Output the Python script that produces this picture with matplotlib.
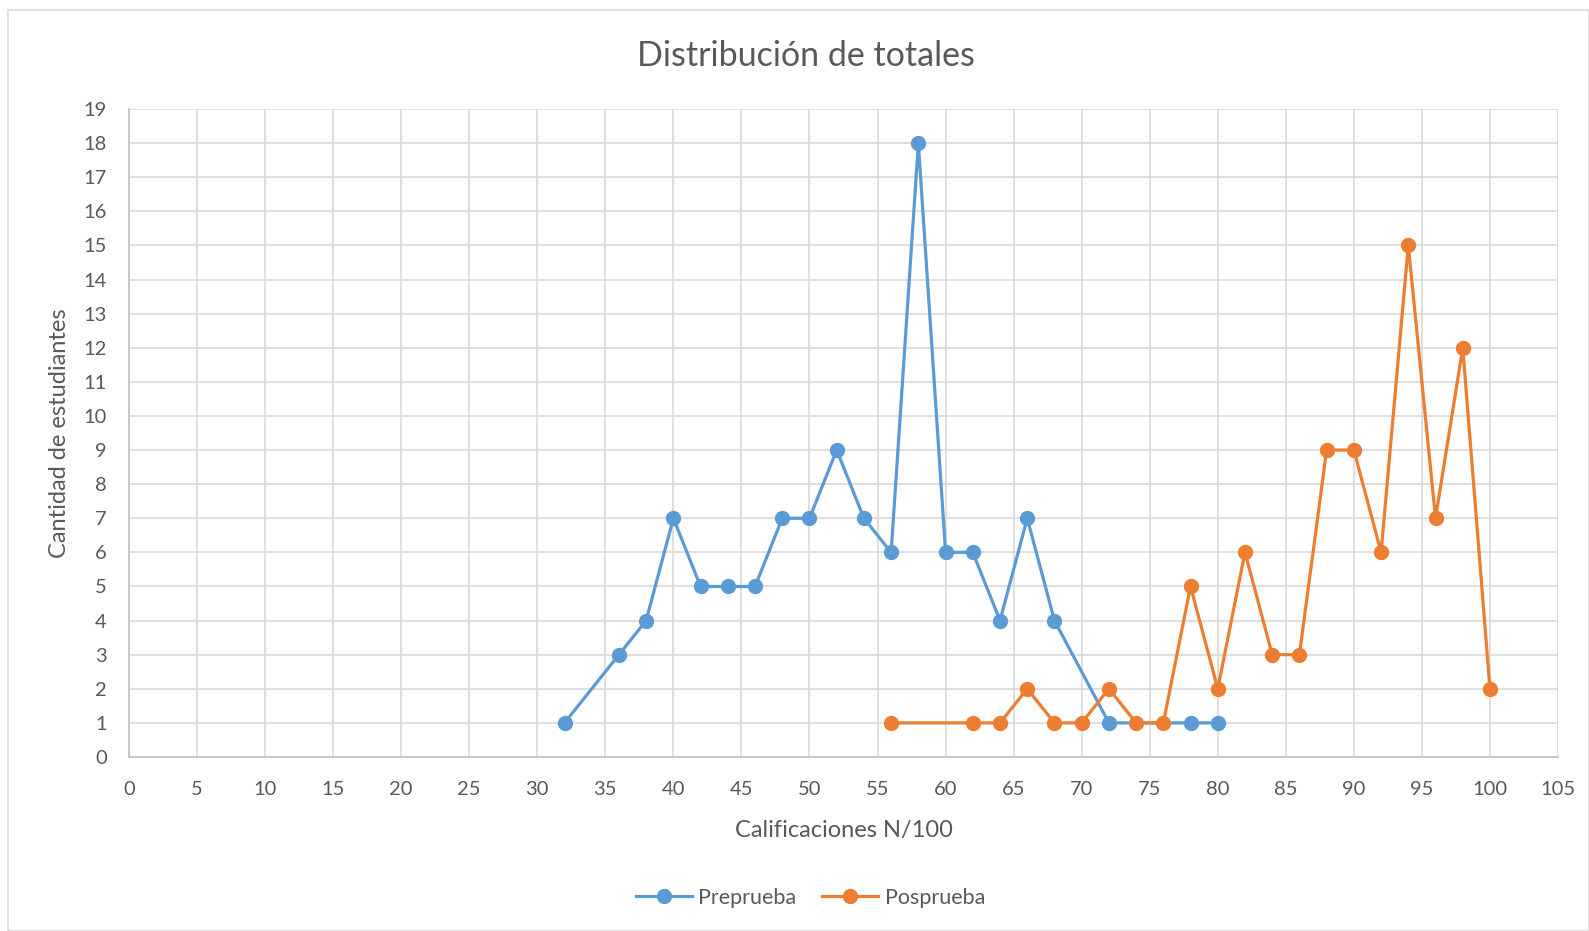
import matplotlib
matplotlib.use('Agg')
import matplotlib.pyplot as plt
from matplotlib.patches import Rectangle

# Datos
pre_x = [32, 36, 38, 40, 42, 44, 46, 48, 50, 52, 54, 56, 58, 60, 62, 64, 66, 68, 72, 78, 80]
pre_y = [1, 3, 4, 7, 5, 5, 5, 7, 7, 9, 7, 6, 18, 6, 6, 4, 7, 4, 1, 1, 1]

pos_x = [56, 62, 64, 66, 68, 70, 72, 74, 76, 78, 80, 82, 84, 86, 88, 90, 92, 94, 96, 98, 100]
pos_y = [1, 1, 1, 2, 1, 1, 2, 1, 1, 5, 2, 6, 3, 3, 9, 9, 6, 15, 7, 12, 2]

x_ticks = list(range(0, 106, 5))
y_ticks = list(range(0, 20))

plt.rcParams['font.family'] = ['Lato', 'DejaVu Sans']
gris = '#595959'

fig = plt.figure(figsize=(15.89, 9.31), dpi=100)
ax = fig.add_axes([129 / 1589, 1 - 757 / 931, (1558 - 129) / 1589, (757 - 109) / 931])

# Marco del área del gráfico
fig.patches.append(Rectangle((8 / 1589, 0), 1 - 8 / 1589, 1 - 10 / 931, transform=fig.transFigure,
                             fill=False, edgecolor='#d9d9d9', linewidth=1.2))

ax.plot(pre_x, pre_y, color='#5B9BD5', linewidth=2.3, marker='o', markersize=10, label='Preprueba', zorder=3)
ax.plot(pos_x, pos_y, color='#ED7D31', linewidth=2.3, marker='o', markersize=10, label='Posprueba', zorder=4)

ax.set_xlim(0, 105)
ax.set_ylim(0, 19)
ax.set_xticks(x_ticks)
ax.set_yticks(y_ticks)
ax.grid(True, color='#d9d9d9', linewidth=1.2)
ax.set_axisbelow(True)
for s in ['top', 'right']:
    ax.spines[s].set_visible(False)
for s in ['left', 'bottom']:
    ax.spines[s].set_color('#bfbfbf')
    ax.spines[s].set_linewidth(1.2)
ax.tick_params(axis='both', colors=gris, labelsize=14.5, length=0)
ax.tick_params(axis='x', pad=17)
ax.tick_params(axis='y', pad=16)

ax.set_xlabel('Calificaciones N/100', fontsize=17, color=gris, labelpad=16)
ax.set_ylabel('Cantidad de estudiantes', fontsize=17, color=gris, labelpad=10)
fig.suptitle('Distribución de totales', fontsize=24.5, color=gris, x=806 / 1589, y=1 - 56 / 931, va='center')

ax.legend(loc='center', bbox_to_anchor=(0.477, -(898 - 757) / (757 - 109)), ncol=2, frameon=False,
          fontsize=15.5, labelcolor=gris, handlelength=2.6, handletextpad=0.3, columnspacing=1.2)

fig.savefig('out.png', dpi=100)
